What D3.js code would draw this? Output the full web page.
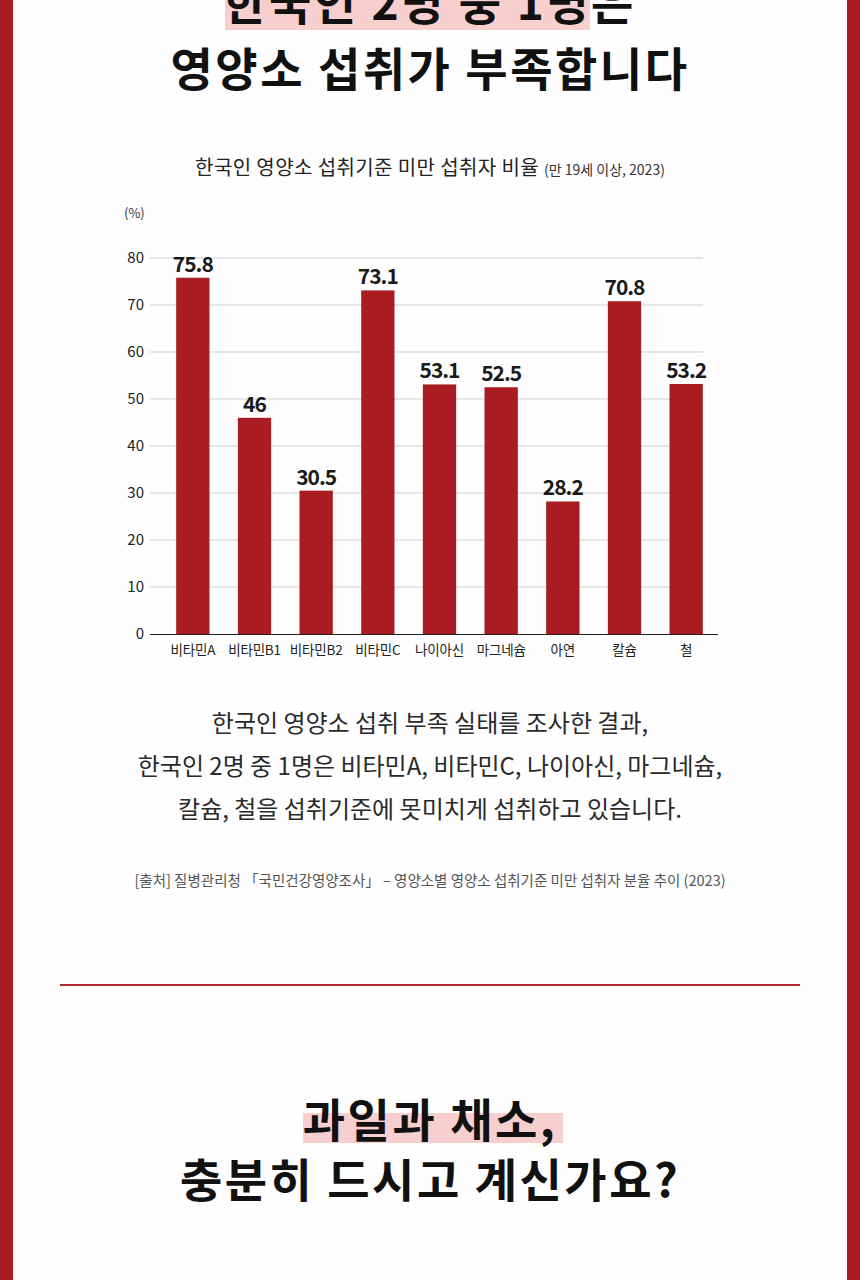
<!DOCTYPE html>
<html>
<head>
<meta charset="utf-8">
<script src="https://cdn.jsdelivr.net/npm/d3@7"></script>
<style>
  body { margin: 0; background: #fff; }
  svg { display: block; font-family: "Noto Sans CJK KR", "Noto Sans", sans-serif; }
</style>
</head>
<body>
<svg id="page" width="860" height="1280"></svg>
<script>
// chart data
const nutrients = ["비타민A", "비타민B1", "비타민B2", "비타민C", "나이아신", "마그네슘", "아연", "칼슘", "철"];
const shortfallRates = [75.8, 46, 30.5, 73.1, 53.1, 52.5, 28.2, 70.8, 53.2];
const yTicks = [0, 10, 20, 30, 40, 50, 60, 70, 80];

const chartTitle = "한국인 영양소 섭취기준 미만 섭취자 비율";
const chartSubtitle = "(만 19세 이상, 2023)";
const bodyLines = [
  "한국인 영양소 섭취 부족 실태를 조사한 결과,",
  "한국인 2명 중 1명은 비타민A, 비타민C, 나이아신, 마그네슘,",
  "칼슘, 철을 섭취기준에 못미치게 섭취하고 있습니다."
];
const sourceText = "[출처] 질병관리청 「국민건강영양조사」 – 영양소별 영양소 섭취기준 미만 섭취자 분율 추이 (2023)";

const red = "#a81c22";
const svg = d3.select("#page");

// page frame
svg.append("rect").attr("width", 860).attr("height", 1280).attr("fill", "#fefefe");
svg.append("rect").attr("x", 0).attr("y", 0).attr("width", 13).attr("height", 1280).attr("fill", red);
svg.append("rect").attr("x", 847).attr("y", 0).attr("width", 13).attr("height", 1280).attr("fill", red);

// headings (the first line runs off the top, as in the source page)
function heading(txt, yPos) {
  svg.append("text").attr("x", 430).attr("y", yPos).attr("text-anchor", "middle")
    .attr("font-size", 46).attr("font-weight", 700).attr("fill", "#111").attr("letter-spacing", 2.5)
    .text(txt);
}
svg.append("rect").attr("x", 225).attr("y", 0).attr("width", 365).attr("height", 30).attr("fill", "#f8cfcf");
heading("한국인 2명 중 1명은", 20);
heading("영양소 섭취가 부족합니다", 86);

// chart title
const title = svg.append("text").attr("x", 430).attr("y", 175).attr("text-anchor", "middle")
  .attr("fill", "#222");
title.append("tspan").attr("font-size", 20).attr("letter-spacing", 0.4).text(chartTitle + " ");
title.append("tspan").attr("font-size", 14).attr("fill", "#333").text(chartSubtitle);

svg.append("text").attr("x", 124).attr("y", 218).attr("font-size", 13).attr("fill", "#333").text("(%)");

// chart
const plotLeft = 150, plotRight = 718, plotTop = 258, plotBottom = 634;
const x = d3.scaleBand().domain(nutrients).range([162, 717]).paddingInner(0.46).paddingOuter(0.23);
const y = d3.scaleLinear().domain([0, 80]).range([plotBottom, plotTop]);

const g = svg.append("g");

// gridlines
g.append("g").selectAll("line").data(yTicks.filter(d => d > 0)).enter().append("line")
  .attr("x1", plotLeft).attr("x2", 703)
  .attr("y1", d => y(d)).attr("y2", d => y(d))
  .attr("stroke", "#cfcfcf").attr("stroke-width", 1);

// y axis labels
const yAxis = g.append("g").attr("transform", "translate(" + 144 + ",0)")
  .call(d3.axisLeft(y).tickValues(yTicks).tickSize(0).tickPadding(0));
yAxis.select(".domain").remove();
yAxis.selectAll("text").attr("font-size", 15).attr("fill", "#222")
  .attr("font-family", "'Noto Sans CJK KR', sans-serif");

// bars
g.selectAll(".bar").data(nutrients).enter().append("rect")
  .attr("class", "bar")
  .attr("x", d => x(d))
  .attr("y", (d, i) => y(shortfallRates[i]))
  .attr("width", x.bandwidth())
  .attr("height", (d, i) => plotBottom - y(shortfallRates[i]))
  .attr("fill", red);

// value labels
g.selectAll(".val").data(nutrients).enter().append("text")
  .attr("x", d => x(d) + x.bandwidth() / 2)
  .attr("y", (d, i) => y(shortfallRates[i]) - 6)
  .attr("text-anchor", "middle")
  .attr("font-size", 21).attr("font-weight", 700).attr("fill", "#1a1a1a").attr("letter-spacing", -1)
  .text((d, i) => shortfallRates[i]);

// x axis
const xAxis = g.append("g").attr("transform", "translate(0," + plotBottom + ")")
  .call(d3.axisBottom(x).tickSize(0).tickPadding(11));
xAxis.select(".domain").remove();
xAxis.selectAll("text").attr("font-size", 13.5).attr("fill", "#222").attr("letter-spacing", -0.2)
  .attr("font-family", "'Noto Sans CJK KR', sans-serif");
g.append("line").attr("x1", plotLeft).attr("x2", plotRight).attr("y1", plotBottom + 0.5).attr("y2", plotBottom + 0.5)
  .attr("stroke", "#222").attr("stroke-width", 1.2);

// body text
svg.append("g").selectAll("text").data(bodyLines).enter().append("text")
  .attr("x", 430).attr("y", (d, i) => 732 + i * 43)
  .attr("text-anchor", "middle")
  .attr("font-size", 24).attr("fill", "#2a2a2a")
  .text(d => d);

svg.append("text").attr("x", 430).attr("y", 886).attr("text-anchor", "middle")
  .attr("font-size", 14.5).attr("fill", "#555")
  .text(sourceText);

// divider
svg.append("line").attr("x1", 60).attr("x2", 800).attr("y1", 985).attr("y2", 985)
  .attr("stroke", "#b5282e").attr("stroke-width", 2);

// bottom heading
svg.append("rect").attr("x", 303).attr("y", 1113).attr("width", 260).attr("height", 30).attr("fill", "#f8cfcf");
heading("과일과 채소,", 1137);
heading("충분히 드시고 계신가요?", 1197);
</script>
</body>
</html>
